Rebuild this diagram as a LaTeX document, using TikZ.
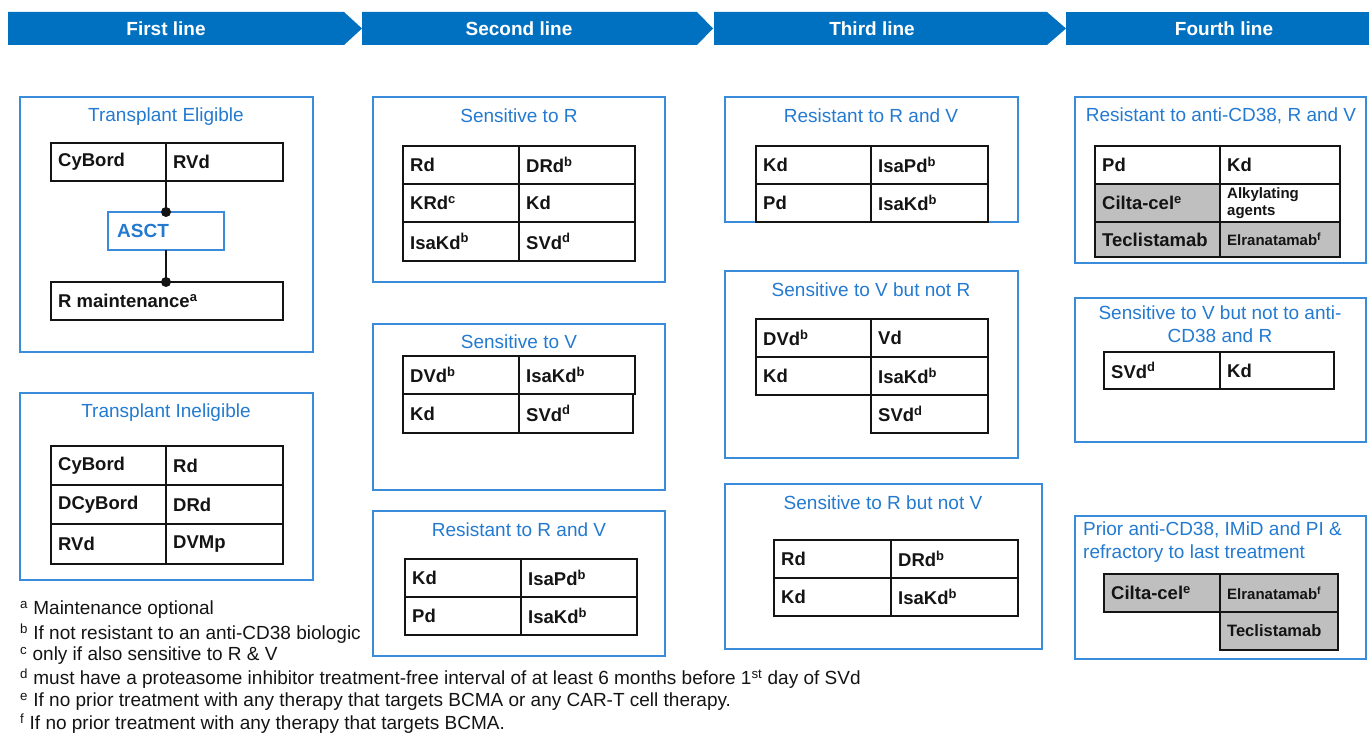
\documentclass[tikz,border=0pt]{standalone}
\usepackage{fontspec}
\setmainfont{Liberation Sans}
\definecolor{hdrblue}{RGB}{0,112,192}
\definecolor{boxblue}{RGB}{58,140,218}
\definecolor{titleblue}{RGB}{35,122,208}
\definecolor{cellgray}{RGB}{191,191,191}
\definecolor{ink}{RGB}{20,20,20}
\newcommand\sps[1]{\textsuperscript{#1}}
\tikzset{
 hdrshape/.style={fill=hdrblue},
 hdrtext/.style={text=white,font=\fontsize{19}{23}\selectfont\bfseries,inner sep=0pt},
 panel/.style={draw=boxblue,line width=2pt,anchor=north west,inner sep=0pt,outer sep=0pt},
 ptitle/.style={text=titleblue,font=\fontsize{19}{23}\selectfont,align=center,inner sep=0pt},
 cell/.style={draw=ink,line width=1.8pt,anchor=north west,inner sep=0pt,outer sep=0pt},
 ctext/.style={anchor=west,font=\fontsize{18.5}{21}\selectfont\bfseries,text=ink,inner sep=0pt,xshift=7pt,align=left},
 smalltext/.style={font=\fontsize{15}{16.5}\selectfont\bfseries},
 midtext/.style={font=\fontsize{16.5}{19}\selectfont\bfseries},
 foot/.style={anchor=west,font=\fontsize{19}{23}\selectfont,inner sep=0pt,text=ink},
 link/.style={draw=ink,line width=1.8pt},
 dot/.style={circle,fill=ink,inner sep=0pt,minimum size=10pt}
}
\newcommand\pnl[5]{\node[panel,minimum width=#4,minimum height=#5] (#1) at (#2,#3) {};}
\newcommand\cel[8]{\node[cell,fill=#6,minimum width=#4,minimum height=#5] (#1) at (#2,#3) {};
 \node[ctext,#7] (#1t) at (#1.west) {#8};}
\begin{document}
\begin{tikzpicture}[x=1pt,y=-1pt]
\useasboundingbox (0,0) rectangle (1369,735);
% headers
\fill[hdrshape] (8,12) -- (344,12) -- (362,28.5) -- (344,45) -- (8,45) -- cycle;
\fill[hdrshape] (362,12) -- (697,12) -- (713,28.5) -- (697,45) -- (362,45) -- cycle;
\fill[hdrshape] (714,12) -- (1047,12) -- (1066,28.5) -- (1047,45) -- (714,45) -- cycle;
\fill[hdrshape] (1066,12) -- (1369,12) -- (1369,45) -- (1066,45) -- cycle;
\node[hdrtext] (h1) at (166,28.5) {First line};
\node[hdrtext] (h2) at (519,28.5) {Second line};
\node[hdrtext] (h3) at (872,28.5) {Third line};
\node[hdrtext] (h4) at (1224,28.5) {Fourth line};

% ---- column 1
\pnl{te}{20}{97}{293}{255}
\node[ptitle] (tet) at (166,117) {Transplant Eligible};
\cel{te1}{51}{143}{115}{38}{white}{}{CyBord}
\cel{te2}{166}{143}{117}{38}{white}{}{RVd}
\node[panel,minimum width=116,minimum height=38] (asct) at (108,212) {};
\node[anchor=west,inner sep=0pt,text=titleblue,font=\fontsize{19}{23}\selectfont\bfseries] (asctt) at ([xshift=9]asct.west) {ASCT};
\cel{rm}{51}{282}{232}{38}{white}{}{R maintenance\sps{a}}
\coordinate (rmtop) at (asct.south |- rm.north);
\draw[link] (te1.south east) -- (asct.north);
\node[dot] (d1) at (asct.north) {};
\draw[link] (asct.south) -- (rmtop);
\node[dot] (d2) at (rmtop) {};

\pnl{ti}{20}{393}{293}{187}
\node[ptitle] (tit) at (166,413) {Transplant Ineligible};
\cel{ti1}{51}{446}{115}{39}{white}{}{CyBord}
\cel{ti2}{166}{446}{117}{39}{white}{}{Rd}
\cel{ti3}{51}{485}{115}{39}{white}{}{DCyBord}
\cel{ti4}{166}{485}{117}{39}{white}{}{DRd}
\cel{ti5}{51}{524}{115}{40}{white}{}{RVd}
\cel{ti6}{166}{524}{117}{40}{white}{}{DVMp}

% ---- column 2
\pnl{sr}{373}{97}{292}{185}
\node[ptitle] (srt) at (519,116) {Sensitive to R};
\cel{sr1}{403}{146}{116}{38}{white}{}{Rd}
\cel{sr2}{519}{146}{116}{38}{white}{}{DRd\sps{b}}
\cel{sr3}{403}{184}{116}{38}{white}{}{KRd\sps{c}}
\cel{sr4}{519}{184}{116}{38}{white}{}{Kd}
\cel{sr5}{403}{222}{116}{39}{white}{}{IsaKd\sps{b}}
\cel{sr6}{519}{222}{116}{39}{white}{}{SVd\sps{d}}

\pnl{sv}{373}{324}{292}{166}
\node[ptitle] (svt) at (519,342) {Sensitive to V};
\cel{sv1}{403}{356}{116}{38}{white}{}{DVd\sps{b}}
\cel{sv2}{519}{356}{116}{38}{white}{}{IsaKd\sps{b}}
\cel{sv3}{403}{394}{116}{39}{white}{}{Kd}
\cel{sv4}{519}{394}{114}{39}{white}{}{SVd\sps{d}}

\pnl{rr}{373}{511}{292}{145}
\node[ptitle] (rrt) at (519,530) {Resistant to R and V};
\cel{rr1}{405}{559}{116}{38}{white}{}{Kd}
\cel{rr2}{521}{559}{116}{38}{white}{}{IsaPd\sps{b}}
\cel{rr3}{405}{597}{116}{38}{white}{}{Pd}
\cel{rr4}{521}{597}{116}{38}{white}{}{IsaKd\sps{b}}

% ---- column 3
\pnl{tr}{725}{97}{293}{125}
\node[ptitle] (trt) at (871,116) {Resistant to R and V};
\cel{tr1}{756}{146}{115}{38}{white}{}{Kd}
\cel{tr2}{871}{146}{117}{38}{white}{}{IsaPd\sps{b}}
\cel{tr3}{756}{184}{115}{38}{white}{}{Pd}
\cel{tr4}{871}{184}{117}{38}{white}{}{IsaKd\sps{b}}

\pnl{tv}{725}{271}{293}{187}
\node[ptitle] (tvt) at (871,290) {Sensitive to V but not R};
\cel{tv1}{756}{319}{115}{38}{white}{}{DVd\sps{b}}
\cel{tv2}{871}{319}{117}{38}{white}{}{Vd}
\cel{tv3}{756}{357}{115}{38}{white}{}{Kd}
\cel{tv4}{871}{357}{117}{38}{white}{}{IsaKd\sps{b}}
\cel{tv5}{871}{395}{117}{38}{white}{}{SVd\sps{d}}

\pnl{ts}{725}{484}{317}{165}
\node[ptitle] (tst) at (883,503) {Sensitive to R but not V};
\cel{ts1}{774}{540}{117}{38}{white}{}{Rd}
\cel{ts2}{891}{540}{127}{38}{white}{}{DRd\sps{b}}
\cel{ts3}{774}{578}{117}{38}{white}{}{Kd}
\cel{ts4}{891}{578}{127}{38}{white}{}{IsaKd\sps{b}}

% ---- column 4
\pnl{fa}{1075}{97}{291}{166}
\node[ptitle] (fat) at (1221,116) {Resistant to anti-CD38, R and V};
\cel{fa1}{1095}{146}{125}{38}{white}{}{Pd}
\cel{fa2}{1220}{146}{120}{38}{white}{}{Kd}
\cel{fa3}{1095}{184}{125}{38}{cellgray}{}{Cilta-cel\sps{e}}
\cel{fa4}{1220}{184}{120}{38}{white}{smalltext}{Alkylating\\agents}
\cel{fa5}{1095}{222}{125}{35}{cellgray}{}{Teclistamab}
\cel{fa6}{1220}{222}{120}{35}{cellgray}{smalltext}{Elranatamab\sps{f}}

\pnl{fb}{1075}{298}{291}{144}
\node[ptitle,anchor=north] (fbt) at (1220,306) {Sensitive to V but not to anti-\\CD38 and R};
\cel{fb1}{1104}{352}{116}{37}{white}{}{SVd\sps{d}}
\cel{fb2}{1220}{352}{114}{37}{white}{}{Kd}

\pnl{fc}{1075}{516}{291}{143}
\node[ptitle,anchor=north west,align=left] (fct) at (1083,522) {Prior anti-CD38, IMiD and PI \&\\refractory to last treatment};
\cel{fc1}{1104}{574}{116}{38}{cellgray}{}{Cilta-cel\sps{e}}
\cel{fc2}{1220}{574}{118}{38}{cellgray}{smalltext}{Elranatamab\sps{f}}
\cel{fc3}{1220}{612}{118}{38}{cellgray}{midtext}{Teclistamab}

% ---- footnotes
\node[foot] (na) at (20,610) {\sps{a} Maintenance optional};
\node[foot] (nb) at (20,634) {\sps{b} If not resistant to an anti-CD38 biologic};
\node[foot] (nc) at (20,656) {\sps{c} only if also sensitive to R \& V};
\node[foot] (nd) at (20,679) {\sps{d} must have a proteasome inhibitor treatment-free interval of at least 6 months before 1\sps{st} day of SVd};
\node[foot] (ne) at (20,702) {\sps{e} If no prior treatment with any therapy that targets BCMA or any CAR-T cell therapy.};
\node[foot] (nf) at (20,724) {\sps{f} If no prior treatment with any therapy that targets BCMA.};
\end{tikzpicture}
\end{document}
